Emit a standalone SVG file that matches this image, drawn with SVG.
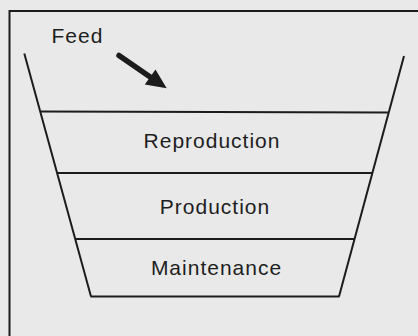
<svg xmlns="http://www.w3.org/2000/svg" width="418" height="336" viewBox="0 0 418 336">
  <defs>
    <style>
      .ln { stroke: #1c1c1c; stroke-width: 2; fill: none; }
      .lbl { font-family: "Liberation Sans", Arial, sans-serif; font-size: 21px; letter-spacing: 1px; fill: #1e1e1e; }
    </style>
  </defs>
  <rect x="0" y="0" width="418" height="336" fill="#e9e9e9"/>
  <g id="frame">
    <polyline class="ln" points="9.5,336 9.5,11 418,11"/>
  </g>
  <g id="funnel">
    <line class="ln" x1="24.3" y1="53.5" x2="91" y2="296.5"/>
    <line class="ln" x1="404" y1="56" x2="339" y2="296.5"/>
  </g>
  <g id="reproduction">
    <line class="ln" x1="40" y1="111.5" x2="388" y2="112.5"/>
    <text class="lbl" x="212" y="148" text-anchor="middle">Reproduction</text>
  </g>
  <g id="production">
    <line class="ln" x1="57" y1="173" x2="372.5" y2="173"/>
    <text class="lbl" x="215" y="213.5" text-anchor="middle">Production</text>
  </g>
  <g id="maintenance">
    <line class="ln" x1="75.3" y1="239" x2="354.5" y2="239"/>
    <line class="ln" x1="90.5" y1="296.5" x2="339.5" y2="296.5"/>
    <text class="lbl" x="216.5" y="275" text-anchor="middle">Maintenance</text>
  </g>
  <g id="feed">
    <text class="lbl" x="51.5" y="43.3">Feed</text>
  </g>
  <g id="connectors">
    <line x1="119" y1="55.5" x2="152" y2="78.2" stroke="#1c1c1c" stroke-width="5.5" stroke-linecap="round"/>
    <polygon points="166.7,88.3 144.8,84.5 155.5,69.6" fill="#1c1c1c"/>
  </g>
</svg>
